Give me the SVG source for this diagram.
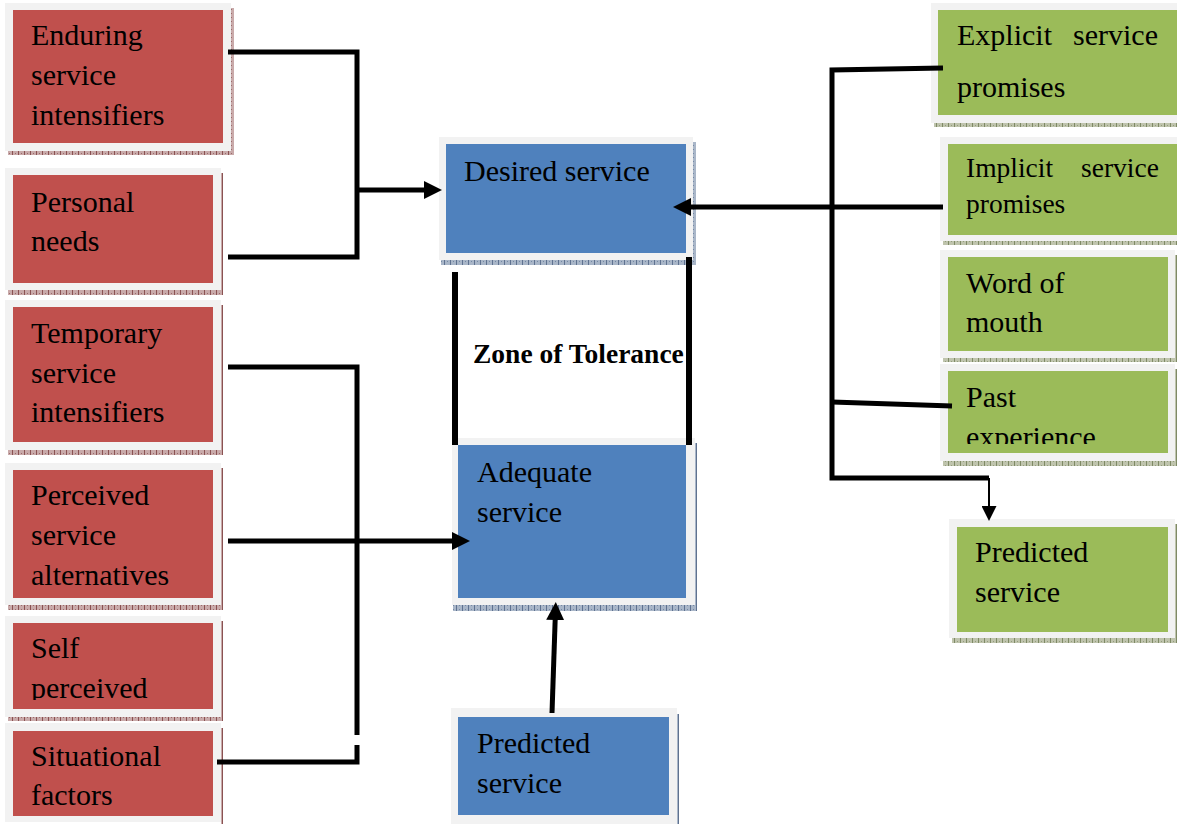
<svg xmlns="http://www.w3.org/2000/svg" width="1177" height="824" viewBox="0 0 1177 824">
<style>
.frame{fill:#f2f2f2}
.red{fill:#c0504d}
.blue{fill:#4f81bd}
.green{fill:#9bbb59}
.t{font-family:"Liberation Serif","Times New Roman",serif;font-size:30px;fill:#000}
.ts{font-size:27.5px}
.zb{font-family:"Liberation Serif","Times New Roman",serif;font-size:27.5px;font-weight:bold;fill:#000}
.ln{fill:none;stroke:#000;stroke-width:5}
.zl{fill:none;stroke:#000;stroke-width:6}
.thin{fill:none;stroke:#000;stroke-width:2}
</style>
<defs>
<pattern id="pR" width="6" height="4" patternUnits="userSpaceOnUse"><rect width="6" height="4" fill="#c9aaaa"/><rect x="0" y="0" width="1" height="4" fill="#8a5252"/><rect x="3" y="1" width="1" height="1" fill="#9a6a6a"/></pattern>
<pattern id="pB" width="6" height="4" patternUnits="userSpaceOnUse"><rect width="6" height="4" fill="#a9b6c8"/><rect x="0" y="0" width="1" height="4" fill="#5f7290"/><rect x="3" y="1" width="1" height="1" fill="#7488a4"/></pattern>
<pattern id="pG" width="6" height="4" patternUnits="userSpaceOnUse"><rect width="6" height="4" fill="#bfc4ad"/><rect x="0" y="0" width="1" height="4" fill="#7f8a66"/><rect x="3" y="1" width="1" height="1" fill="#939c7c"/></pattern>
<marker id="arr" viewBox="0 0 18 18" markerWidth="18" markerHeight="18" refX="1" refY="9" markerUnits="userSpaceOnUse" orient="auto"><path d="M0,0 L18,9 L0,18 z" fill="#000"/></marker>
<marker id="arrS" viewBox="0 0 15 15" markerWidth="15" markerHeight="15" refX="1" refY="7.5" markerUnits="userSpaceOnUse" orient="auto"><path d="M0,0 L15,7.5 L0,15 z" fill="#000"/></marker>
<clipPath id="c5"><rect x="0" y="616" width="230" height="84"/></clipPath>
<clipPath id="cPast"><rect x="940" y="364" width="237" height="80"/></clipPath>
</defs>

<g id="enduring">
<rect x="231" y="8" width="3" height="147" fill="url(#pR)"/><rect x="8" y="151" width="226" height="4" fill="url(#pR)"/>
<rect class="frame" x="5" y="3" width="226" height="148"/><rect class="red" x="13" y="10" width="210" height="133"/>
<text class="t" x="31" y="45">Enduring</text><text class="t" x="31" y="85">service</text><text class="t" x="31" y="125">intensifiers</text>
</g>
<g id="personal">
<rect x="221" y="173" width="2" height="122" fill="url(#pR)"/><rect x="8" y="290" width="215" height="5" fill="url(#pR)"/>
<rect class="frame" x="5" y="168" width="216" height="122"/><rect class="red" x="13" y="175" width="200" height="108"/>
<text class="t" x="31" y="212">Personal</text><text class="t" x="31" y="251">needs</text>
</g>
<g id="temporary">
<rect x="221" y="305" width="2" height="150" fill="url(#pR)"/><rect x="8" y="450" width="215" height="5" fill="url(#pR)"/>
<rect class="frame" x="5" y="300" width="216" height="150"/><rect class="red" x="13" y="307" width="200" height="135"/>
<text class="t" x="31" y="343">Temporary</text><text class="t" x="31" y="383">service</text><text class="t" x="31" y="422">intensifiers</text>
</g>
<g id="perceived">
<rect x="221" y="468" width="2" height="142" fill="url(#pR)"/><rect x="8" y="605" width="215" height="5" fill="url(#pR)"/>
<rect class="frame" x="5" y="463" width="216" height="142"/><rect class="red" x="13" y="470" width="200" height="128"/>
<text class="t" x="31" y="505">Perceived</text><text class="t" x="31" y="545">service</text><text class="t" x="31" y="585">alternatives</text>
</g>
<g id="self">
<rect x="221" y="621" width="2" height="100" fill="url(#pR)"/><rect x="8" y="717" width="215" height="4" fill="url(#pR)"/>
<rect class="frame" x="5" y="616" width="216" height="101"/><rect class="red" x="13" y="623" width="200" height="86"/>
<g clip-path="url(#c5)"><text class="t" x="31" y="658">Self</text><text class="t" x="31" y="698">perceived</text></g>
</g>
<g id="situational">
<rect x="221" y="728" width="2" height="96" fill="url(#pR)"/>
<rect class="frame" x="5" y="723" width="216" height="99"/><rect class="red" x="13" y="731" width="200" height="85"/>
<text class="t" x="31" y="766">Situational</text><text class="t" x="31" y="805">factors</text>
</g>

<g id="desired">
<rect x="693" y="142" width="3" height="123" fill="url(#pB)"/><rect x="441" y="260" width="255" height="5" fill="url(#pB)"/>
<rect class="frame" x="439" y="137" width="254" height="123"/><rect class="blue" x="446" y="144" width="240" height="109"/>
<text class="t" x="464" y="181">Desired service</text>
</g>
<g id="zone">
<text class="zb" x="473" y="363">Zone of Tolerance</text>
</g>
<g id="adequate">
<rect x="695" y="443" width="2" height="168" fill="url(#pB)"/><rect x="453" y="605" width="244" height="6" fill="url(#pB)"/>
<rect class="frame" x="452" y="438" width="243" height="167"/><rect class="blue" x="458" y="445" width="228" height="153"/>
<text class="t" x="477" y="482">Adequate</text><text class="t" x="477" y="522">service</text>
</g>
<g id="predicted-blue">
<rect x="677" y="714" width="2" height="110" fill="url(#pB)"/>
<rect class="frame" x="451" y="708" width="226" height="116"/><rect class="blue" x="458" y="717" width="211" height="98"/>
<text class="t" x="477" y="753">Predicted</text><text class="t" x="477" y="793">service</text>
</g>

<g id="explicit">
<rect x="934" y="123" width="243" height="4" fill="url(#pG)"/>
<rect class="frame" x="931" y="3" width="246" height="120"/><rect class="green" x="938" y="10" width="239" height="105"/>
<text class="t" x="957" y="45">Explicit</text><text class="t" x="1073" y="45">service</text><text class="t" x="957" y="97">promises</text>
</g>
<g id="implicit">
<rect x="943" y="241" width="234" height="4" fill="url(#pG)"/>
<rect class="frame" x="940" y="137" width="237" height="104"/><rect class="green" x="948" y="144" width="229" height="91"/>
<text class="t ts" x="966" y="177">Implicit</text><text class="t ts" x="1081" y="177">service</text><text class="t ts" x="966" y="213">promises</text>
</g>
<g id="word">
<rect x="1175" y="255" width="2" height="107" fill="url(#pG)"/><rect x="943" y="358" width="234" height="4" fill="url(#pG)"/>
<rect class="frame" x="940" y="250" width="235" height="108"/><rect class="green" x="948" y="257" width="220" height="94"/>
<text class="t" x="966" y="293">Word of</text><text class="t" x="966" y="332">mouth</text>
</g>
<g id="past">
<rect x="1175" y="369" width="2" height="97" fill="url(#pG)"/><rect x="943" y="461" width="234" height="5" fill="url(#pG)"/>
<rect class="frame" x="940" y="364" width="235" height="97"/><rect class="green" x="948" y="371" width="220" height="82"/>
<g clip-path="url(#cPast)"><text class="t" x="966" y="407">Past</text><text class="t" x="966" y="447">experience</text></g>
</g>
<g id="predicted-green">
<rect x="1175" y="524" width="2" height="119" fill="url(#pG)"/><rect x="952" y="638" width="225" height="5" fill="url(#pG)"/>
<rect class="frame" x="949" y="519" width="226" height="119"/><rect class="green" x="957" y="527" width="211" height="105"/>
<text class="t" x="975" y="562">Predicted</text><text class="t" x="975" y="602">service</text>
</g>

<g id="connectors">
<polyline class="ln" points="228,52 357,52 357,257 228,257"/>
<line class="ln" x1="357" y1="190" x2="425" y2="190" marker-end="url(#arr)"/>
<polyline class="ln" points="228,367 357,367 357,735"/>
<polyline class="ln" points="357,745 357,762 217,762"/>
<line class="ln" x1="228" y1="541" x2="453" y2="541" marker-end="url(#arr)"/>
<line class="zl" x1="455" y1="272" x2="455" y2="445"/>
<line class="zl" x1="689" y1="257" x2="689" y2="445"/>
<line class="ln" x1="552" y1="713" x2="555.2" y2="619" marker-end="url(#arr)"/>
<polyline class="ln" points="943,68 832,70 832,478 989,478"/>
<line class="ln" x1="943" y1="207" x2="690" y2="207" marker-end="url(#arr)"/>
<line class="ln" x1="832" y1="402" x2="952" y2="406"/>
<line class="thin" x1="989" y1="478" x2="989" y2="507" marker-end="url(#arrS)"/>
</g>
</svg>
